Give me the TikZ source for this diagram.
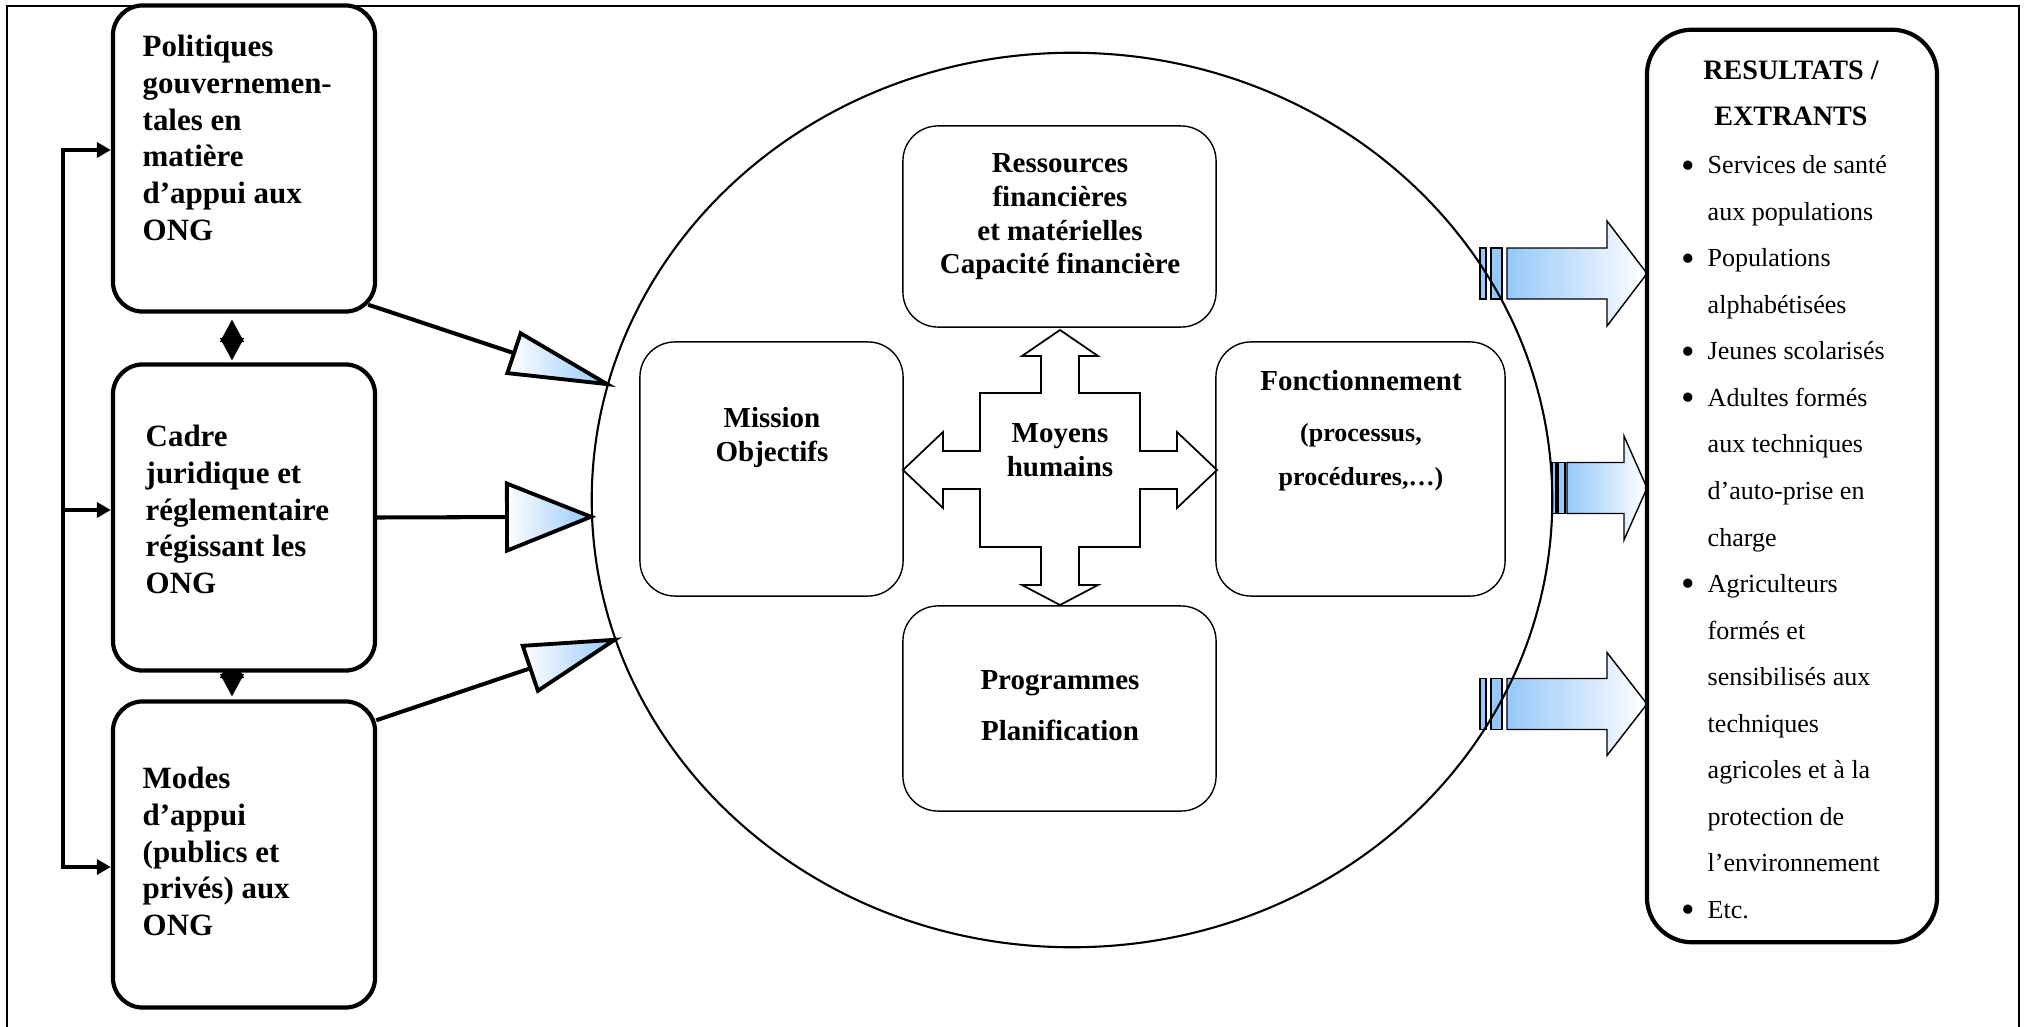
\documentclass[tikz,border=0pt]{standalone}
\usepackage{fontspec}
\setmainfont{Liberation Serif}
\usetikzlibrary{arrows.meta,calc,shapes.geometric}
\definecolor{arrowblue}{RGB}{150,200,250}
\pgfdeclarelayer{background}
\pgfsetlayers{background,main}
\newcommand{\bul}{\makebox[0.23cm][l]{\hspace{-1pt}\raisebox{-1.2pt}{\fontsize{11}{11}\selectfont\textbullet}}}
\newcommand{\ind}{\makebox[0.23cm]{}}
\tikzset{
  outerbox/.style={draw, line width=1.2pt, rounded corners=0.3cm, fill=white,
    minimum width=2.62cm, minimum height=3.06cm, inner sep=0pt},
  innerbox/.style={draw, line width=0.4pt, rounded corners=0.35cm, inner sep=0pt},
  lefttext/.style={anchor=north west, align=left, inner sep=0pt,
    font=\fontsize{8.8}{10.5}\selectfont\bfseries},
  midtext/.style={anchor=north, align=center, inner sep=0pt,
    font=\fontsize{8.25}{9.6}\selectfont\bfseries},
  listtext/.style={anchor=north west, align=left, inner sep=0pt,
    font=\fontsize{7.4}{13.23}\selectfont},
  feed/.style={line width=1pt, >={Triangle[length=0.14cm,width=0.15cm]}},
  diam/.style={<->, line width=0.5pt, >={Triangle[length=0.225cm,width=0.24cm]}},
  link/.style={line width=1.15pt},
  wedge/.style={draw, line width=1.1pt, line join=miter, left color=white, right color=arrowblue},
  stripe/.style={draw, line width=0.4pt, fill=arrowblue},
  outarrow/.style={draw, line width=0.4pt, left color=arrowblue, right color=white}
}
\begin{document}
\begin{tikzpicture}[x=0.01cm,y=-0.01cm]
\useasboundingbox (0,0) rectangle (2029,1027);
% frame
\draw[line width=0.75pt] (7,1040) -- (7,6) -- (2019,6) -- (2019,1040);

% left column
\node[outerbox] (pol) at (244,158.5) {};
\node[outerbox] (cadre) at (244,517.5) {};
\node[outerbox] (modes) at (244,854.5) {};
\node[lefttext] (poltxt) at (142,34) {Politiques\\gouvernemen-\\tales en\\matière\\d’appui aux\\ONG};
\node[lefttext] (cadretxt) at (145,424) {Cadre\\juridique et\\réglementaire\\régissant les\\ONG};
\node[lefttext] (modestxt) at (142,766) {Modes\\d’appui\\(publics et\\privés) aux\\ONG};

% feedback line and links between boxes
\coordinate (fb1) at (63,150);
\coordinate (fb2) at (63,510);
\coordinate (fb3) at (63,867);
\begin{pgfonlayer}{background}
\draw[feed,<->] (fb1 -| pol.west) -- (fb1) -- (fb3) -- (fb3 -| modes.west);
\draw[feed,->] (fb2) -- (fb2 -| cadre.west);
\draw[diam] ($(pol.south)+(-12,6)$) -- ($(cadre.north)+(-12,-2)$);
\draw[diam] ($(cadre.south)+(-12,-17)$) -- ($(modes.north)+(-12,-3)$);
\end{pgfonlayer}

% the organisation
\node[draw, ellipse, line width=0.6pt, inner sep=0pt,
  minimum width=9.6cm, minimum height=8.94cm] (org) at (1072,500) {};
\node[innerbox, minimum width=3.13cm, minimum height=2.01cm] (res) at (1059.5,226.5) {};
\node[innerbox, minimum width=2.63cm, minimum height=2.54cm] (mis) at (771.5,469) {};
\node[innerbox, minimum width=2.89cm, minimum height=2.54cm] (fon) at (1360.5,469) {};
\node[innerbox, minimum width=3.13cm, minimum height=2.05cm] (prog) at (1059.5,708.5) {};
\node[midtext] (restxt) at (1060,153) {Ressources\\financières\\et matérielles\\Capacité financière};
\node[midtext] (mistxt) at (772,407) {Mission\\Objectifs};
\node[midtext] (fontxt) at (1361,370) {Fonctionnement\\[4.9pt]{\fontsize{7.4}{9}\selectfont (processus,}\\[2.9pt]{\fontsize{7.4}{9}\selectfont procédures,…)}};
\node[midtext] (progtxt) at (1060,670) {Programmes\\[4.9pt]Planification};

% moyens humains
\coordinate (mh) at (1060,470);
\draw[line width=0.5pt, shift={(mh)}] (0,-140) -- (38,-114) -- (19,-114) -- (19,-77) -- (80,-77)
  -- (80,-19) -- (117,-19) -- (117,-38) -- (157,0) -- (117,38) -- (117,19) -- (80,19)
  -- (80,77) -- (19,77) -- (19,115) -- (38,115) -- (0,135) -- (-38,115) -- (-19,115)
  -- (-19,77) -- (-80,77) -- (-80,19) -- (-117,19) -- (-117,38) -- (-157,0) -- (-117,-38)
  -- (-117,-19) -- (-80,-19) -- (-80,-77) -- (-19,-77) -- (-19,-114) -- (-38,-114) -- cycle;
\node[midtext] (mhtxt) at (1060,423) {Moyens\\humains};

% inputs
\coordinate (s1) at ($(pol.south east)+(-9,-9)$);
\coordinate (t1) at (org.166);
\coordinate (b1) at ($(t1)!0.98cm!(s1)$);
\coordinate (s2) at (cadre.east);
\coordinate (t2) at (org.182);
\coordinate (b2) at ($(t2)!0.84cm!(s2)$);
\coordinate (s3) at ($(modes.north east)+(-1,21)$);
\coordinate (t3) at (org.197);
\coordinate (b3) at ($(t3)!0.89cm!(s3)$);
\begin{pgfonlayer}{background}
\draw[link] (s1) -- (b1);
\draw[link] (s2) -- (b2);
\draw[link] (s3) -- (b3);
\end{pgfonlayer}
\draw[wedge] (t1) -- ($(b1)!0.21cm!90:(t1)$) -- ($(b1)!0.21cm!-90:(t1)$) -- cycle;
\draw[wedge] (t2) -- ($(b2)!0.335cm!90:(t2)$) -- ($(b2)!0.335cm!-90:(t2)$) -- cycle;
\draw[wedge] (t3) -- ($(b3)!0.237cm!90:(t3)$) -- ($(b3)!0.237cm!-90:(t3)$) -- cycle;

% results
\node[outerbox, rounded corners=0.45cm, minimum width=2.9cm, minimum height=9.12cm] (out) at (1792,486) {};
\node[anchor=north, align=center, inner sep=0pt, font=\fontsize{8}{13.23}\selectfont\bfseries]
  (outtitle) at (1791,60) {RESULTATS /\\EXTRANTS};
\node[listtext] (outlist) at (1684,155) {\bul Services de santé\\\ind aux populations\\
  \bul Populations\\\ind alphabétisées\\\bul Jeunes scolarisés\\\bul Adultes formés\\
  \ind aux techniques\\\ind d’auto-prise en\\\ind charge\\\bul Agriculteurs\\\ind formés et\\
  \ind sensibilisés aux\\\ind techniques\\\ind agricoles et à la\\\ind protection de\\
  \ind l’environnement\\\bul Etc.};

% outputs
\begin{pgfonlayer}{background}
\foreach \yc/\sa/\sb/\sc/\sd/\sh/\hb/\hh in
  {273.5/1480/1486/1491/1502/1507/1607/52.5, 488/1552/1556/1558/1565/1567/1624/52,
   704/1480/1486/1491/1502/1507/1607/51.5}{
  \draw[stripe] (\sa,\yc-25.5) rectangle (\sb,\yc+25.5);
  \draw[stripe] (\sc,\yc-25.5) rectangle (\sd,\yc+25.5);
  \draw[outarrow] (\sh,\yc-25.5) -- (\hb,\yc-25.5) -- (\hb,\yc-\hh) -- (1647,\yc)
    -- (\hb,\yc+\hh) -- (\hb,\yc+25.5) -- (\sh,\yc+25.5) -- cycle;
}
\end{pgfonlayer}
\end{tikzpicture}
\end{document}
